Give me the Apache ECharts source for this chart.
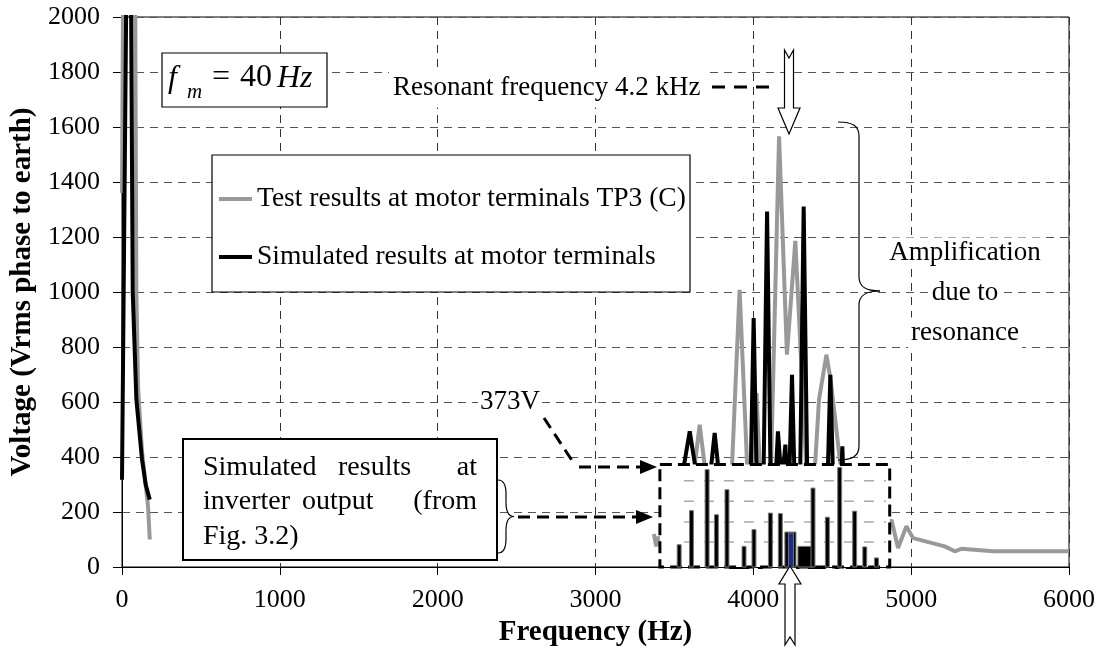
<!DOCTYPE html>
<html><head><meta charset="utf-8">
<script src="https://cdn.jsdelivr.net/npm/echarts@6/dist/echarts.min.js"></script>
<style>html,body{margin:0;padding:0;background:#fff}#c{width:1099px;height:657px}</style>
</head><body><div id="c"></div>
<script>
// ---------- data ----------
const xTicks = [0, 1000, 2000, 3000, 4000, 5000, 6000];
const yTicks = [0, 200, 400, 600, 800, 1000, 1200, 1400, 1600, 1800, 2000];

// [frequency Hz, voltage Vrms]
const testResults = [
  [0,1360],[6,2000],[40,3500],[84,2000],[91,1000],[102,650],[127,420],[150,300],[165,220],[176,100],
  [1000,null],
  [3370,120],[3385,75],[3400,110],[3450,40],[3550,60],[3620,330],[3660,517],[3700,330],[3760,60],
  [3830,80],[3860,300],[3913,1008],[3966,300],[3990,350],[4020,632],[4050,250],[4105,200],
  [4163,1566],[4213,772],[4266,1186],[4345,250],[4389,350],[4416,608],[4463,772],[4490,680],
  [4550,380],[4600,200],[4700,80],[4800,100],[4875,172],[4917,69],[4970,148],[5012,105],
  [5213,75],[5276,57],[5318,66],[5519,57],[6000,57]
];
const simulatedMotor = [
  [0,317],[26,2000],[40,3500],[58,2000],[68,1000],[91,610],[127,390],[150,300],[176,245],
  [1000,null],
  [3450,0],[3540,300],[3597,493],[3650,300],[3700,100],[3715,270],[3755,487],[3795,270],[3850,0],
  [3972,0],[4002,905],[4032,0],[4057,0],[4087,1293],[4117,0],[4135,250],[4156,493],[4180,300],
  [4203,445],[4222,200],[4245,699],[4275,0],[4289,0],[4319,1311],[4349,0],[4456,0],[4488,699],
  [4520,0],[4540,0],[4564,439],[4588,0],[4800,0]
];
// inset (inverter output, from Fig. 3.2): [frequency, height, bar width Hz]
const inverterOutput = [
  [3530,81,25],[3608,205,25],[3707,354,25],[3766,190,25],[3833,281,25],[3941,75,25],[4004,136,25],
  [4108,196,25],[4171,194,25],[4235,127,70],[4330,75,95],[4378,287,25],[4469,181,25],[4547,362,25],
  [4642,203,25],[4706,73,25],[4780,33,25]
];
const inverterResonant = [[4238,124,32]];
const insetBox = [[3408,373,4864,0]];
const insetGridLevels = [[3560,91,4840],[3560,164,4840],[3560,239,4840],[3560,314,4840]];

const SERIF = "'Liberation Serif','Times New Roman',serif";

function boxItem(params, api){
  const a = api.coord([api.value(0), api.value(1)]);
  const b = api.coord([api.value(2), api.value(3)]);
  return {type:'rect', shape:{x:a[0], y:a[1], width:b[0]-a[0], height:b[1]-a[1]},
    style:{fill:'#fff', stroke:'#000', lineWidth:3, lineDash:[12,6]}};
}
function gridItem(params, api){
  const a = api.coord([api.value(0), api.value(1)]);
  const b = api.coord([api.value(2), api.value(1)]);
  return {type:'line', shape:{x1:a[0], y1:a[1], x2:b[0], y2:b[1]},
    style:{stroke:'#aaa', lineWidth:1.5, lineDash:[10,10]}};
}
function barItem(color){
  return function(params, api){
    const f = api.value(0), v = api.value(1), w = api.value(2);
    const a = api.coord([f - w/2, v]), b = api.coord([f + w/2, 0]);
    return {type:'rect', shape:{x:a[0], y:a[1], width:b[0]-a[0], height:b[1]-a[1]},
      style:{fill:color, stroke:'#777', lineWidth:1}};
  };
}

// ---------- annotations (layout) ----------
const T = (text, x, y, o) => Object.assign({type:'text', z:30, style:Object.assign({text, x, y,
  font:'27px '+SERIF, fill:'#000', textAlign:'left', textVerticalAlign:'middle'}, o||{})});
const L = (x1,y1,x2,y2,s) => ({type:'line', z:30, shape:{x1,y1,x2,y2}, style:Object.assign({stroke:'#000', lineWidth:1.2}, s||{})});
const C = (x1,y1,c1x,c1y,c2x,c2y,x2,y2) => ({type:'bezierCurve', z:30,
  shape:{x1,y1,cpx1:c1x,cpy1:c1y,cpx2:c2x,cpy2:c2y,x2,y2}, style:{stroke:'#000', lineWidth:1.2, fill:null}});
const P = (pts, s) => ({type:'polygon', z:30, shape:{points:pts}, style:Object.assign({fill:'#000'}, s||{})});
const DASH = {lineWidth:3, lineDash:[12,7]};

function brace(x0, y0, y1, xb, xt){
  const ym = (y0+y1)/2, r = 14;
  return [
    C(x0,y0, x0+(xb-x0)*0.7,y0, xb,y0+4, xb,y0+r),
    L(xb,y0+r, xb,ym-r),
    C(xb,ym-r, xb,ym-3, xb+(xt-xb)*0.4,ym, xt,ym),
    C(xt,ym, xb+(xt-xb)*0.4,ym, xb,ym+3, xb,ym+r),
    L(xb,ym+r, xb,y1-r),
    C(xb,y1-r, xb,y1-4, x0+(xb-x0)*0.7,y1, x0,y1)
  ];
}
function hollowArrowDown(cx, yTop, yHead, yTip){
  return P([[cx-4.5,yTop],[cx,yTop+8],[cx+4.5,yTop],[cx+4.5,yHead],[cx+11,yHead],[cx,yTip],[cx-11,yHead],[cx-4.5,yHead]],
    {fill:'#fff', stroke:'#000', lineWidth:1.2});
}
function hollowArrowUp(cx, yTip, yHead, yBot){
  return P([[cx,yTip],[cx+11,yHead],[cx+5,yHead],[cx+5,yBot],[cx,yBot-8],[cx-5,yBot],[cx-5,yHead],[cx-11,yHead]],
    {fill:'#fff', stroke:'#000', lineWidth:1.2});
}

const graphics = [
  // legend frame
  {type:'rect', z:6, shape:{x:212, y:155, width:478, height:137}, style:{fill:'#fff', stroke:'#000', lineWidth:1.2}},
  // f_m box
  {type:'rect', z:30, shape:{x:162, y:53, width:165, height:54}, style:{fill:'#fff', stroke:'#000', lineWidth:1.2}},
  T('f', 168, 79, {font:'italic 32px '+SERIF}),
  T('m', 187, 92, {font:'italic 21px '+SERIF}),
  T('=', 221, 78, {font:'32px '+SERIF, textAlign:'center'}),
  T('40', 240, 78, {font:'32px '+SERIF}),
  T('Hz', 277, 79, {font:'italic 32px '+SERIF}),
  // resonant frequency
  T('Resonant frequency 4.2 kHz', 389, 88, {backgroundColor:'#fff', padding:[6,4,6,4]}),
  L(712, 87, 776, 87, {lineWidth:3, lineDash:[13,9]}),
  hollowArrowDown(789, 50, 108, 134),
  hollowArrowUp(790, 566, 584, 645),
  // amplification brace
  ...brace(838, 122, 460, 859, 880),
  T('Amplification', 965, 253, {textAlign:'center', backgroundColor:'#fff', padding:[2,3,2,3]}),
  T('due to', 965, 293, {textAlign:'center', backgroundColor:'#fff', padding:[2,3,2,3]}),
  T('resonance', 965, 333, {textAlign:'center', backgroundColor:'#fff', padding:[2,3,2,3]}),
  // 373V
  T('373V', 478, 402, {backgroundColor:'#fff', padding:[2,2,2,2]}),
  L(544, 418, 575, 465, DASH),
  L(579, 467, 640, 467, DASH),
  P([[640,460],[657,467],[640,474]]),
  // inverter output label box
  {type:'rect', z:30, shape:{x:183, y:439, width:314, height:121}, style:{fill:'#fff', stroke:'#000', lineWidth:2}},
  T('Simulated', 203, 468, {font:'28px '+SERIF}),
  T('results', 338, 468, {font:'28px '+SERIF}),
  T('at', 477, 468, {font:'28px '+SERIF, textAlign:'right'}),
  T('inverter', 203, 502, {font:'28px '+SERIF}),
  T('output', 302, 502, {font:'28px '+SERIF}),
  T('(from', 477, 502, {font:'28px '+SERIF, textAlign:'right'}),
  T('Fig. 3.2)', 203, 537, {font:'28px '+SERIF}),
  ...brace(498, 480, 553, 506, 514),
  L(518, 517, 637, 517, DASH),
  P([[636,510],[653,517],[636,524]])
];

const chart = echarts.init(document.getElementById('c'), null, {renderer:'canvas'});
chart.setOption({
  animation:false,
  backgroundColor:'#fff',
  textStyle:{fontFamily:SERIF},
  grid:{left:122, right:30, top:17, bottom:90, show:true, borderColor:'#000', borderWidth:1,
        backgroundColor:'rgba(0,0,0,0)', containLabel:false, outerBoundsMode:'none'},
  legend:{orient:'vertical', left:219, top:185, padding:0, itemWidth:33, itemHeight:4, itemGap:30,
    icon:'rect', z:10, selectedMode:false,
    textStyle:{fontFamily:SERIF, fontSize:27.5, lineHeight:28, color:'#000'},
    data:['Test results at motor terminals TP3 (C)','Simulated results at motor terminals']},
  xAxis:{type:'value', min:xTicks[0], max:xTicks[xTicks.length-1], interval:xTicks[1]-xTicks[0],
    name:'Frequency (Hz)', nameLocation:'middle', nameGap:42,
    nameTextStyle:{fontFamily:SERIF, fontWeight:'bold', fontSize:29, color:'#000'},
    axisLine:{show:true, lineStyle:{color:'#000', width:1}},
    axisTick:{show:true, length:8, lineStyle:{color:'#000'}},
    axisLabel:{fontFamily:SERIF, fontSize:26, color:'#000', margin:20, formatter:v => String(v)},
    splitLine:{show:true, lineStyle:{type:[8,6], color:'#333', width:1}}},
  yAxis:{type:'value', min:yTicks[0], max:yTicks[yTicks.length-1], interval:yTicks[1]-yTicks[0],
    name:'Voltage (Vrms phase to earth)', nameLocation:'middle', nameGap:77,
    nameTextStyle:{fontFamily:SERIF, fontWeight:'bold', fontSize:29, color:'#000'},
    axisLine:{show:true, lineStyle:{color:'#000', width:1}},
    axisTick:{show:true, length:9, lineStyle:{color:'#000'}},
    axisLabel:{fontFamily:SERIF, fontSize:26, color:'#000', margin:22, formatter:v => String(v)},
    splitLine:{show:true, lineStyle:{type:[8,6], color:'#555', width:1}}},
  series:[
    {name:'Test results at motor terminals TP3 (C)', type:'line', data:testResults, showSymbol:false,
     symbol:'none', color:'#999', lineStyle:{color:'#999', width:4}, z:2, connectNulls:false, clip:true},
    {name:'Simulated results at motor terminals', type:'line', data:simulatedMotor, showSymbol:false,
     symbol:'none', color:'#000', lineStyle:{color:'#000', width:4}, z:3, connectNulls:false, clip:true},
    {name:'insetBox', type:'custom', data:insetBox, renderItem:boxItem, encode:{x:[0,2], y:[1,3]}, z:5, silent:true},
    {name:'insetGrid', type:'custom', data:insetGridLevels, renderItem:gridItem, encode:{x:[0,2], y:1}, z:6, silent:true},
    {name:'Inverter output', type:'custom', data:inverterOutput, renderItem:barItem('#000'), encode:{x:0, y:1}, z:7, silent:true},
    {name:'Inverter resonant', type:'custom', data:inverterResonant, renderItem:barItem('#1c2a8a'), encode:{x:0, y:1}, z:8, silent:true}
  ],
  graphic:{elements:graphics}
});
</script></body></html>
